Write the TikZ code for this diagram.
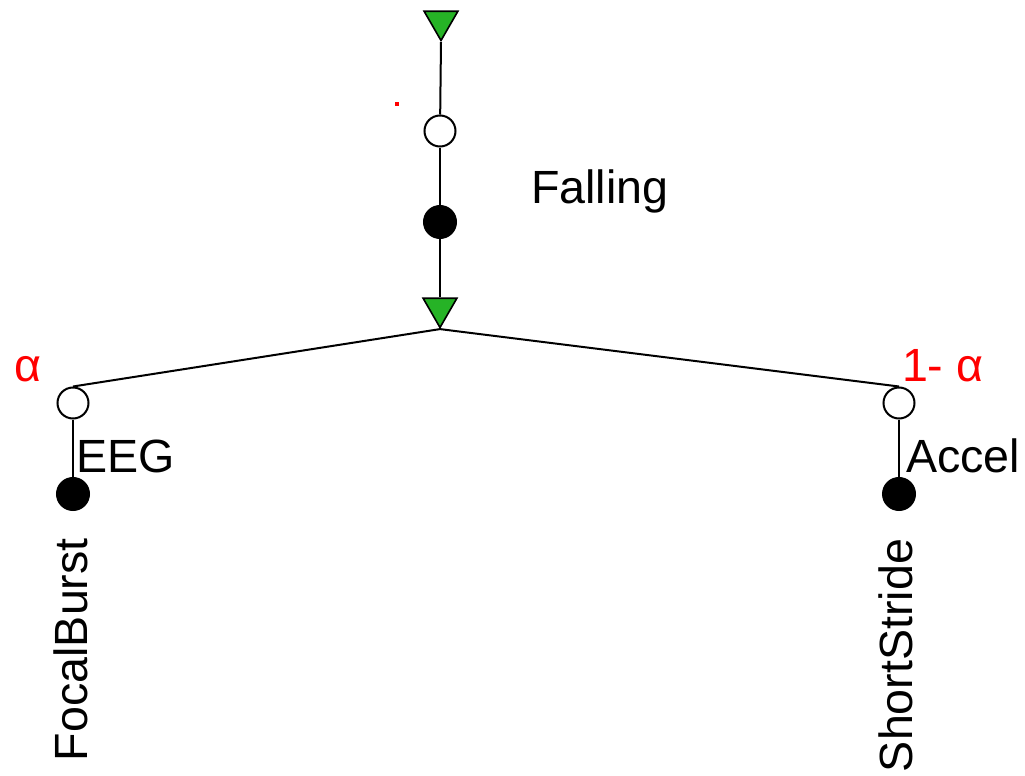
\documentclass[tikz,border=0pt]{standalone}
\usepackage{fontspec}
\setmainfont{Liberation Sans}
\usetikzlibrary{shapes.geometric}
\tikzset{
  hollow/.style={circle, draw, fill=white, line width=1pt, inner sep=0, minimum size=15.5pt},
  solid/.style={circle, draw, fill=black, line width=1pt, inner sep=0, minimum size=16pt},
  tri/.style={regular polygon, regular polygon sides=3, shape border rotate=180, draw, fill=green!65!black!85, line width=0.8pt, inner sep=0, minimum size=19.5pt},
  lbl/.style={inner sep=0, anchor=base west, font=\fontsize{23.3}{28}\selectfont},
  wt/.style={lbl, text=red}
}
\begin{document}
\begin{tikzpicture}[x=0.5pt, y=-0.5pt, line width=1pt]
      \useasboundingbox (0,0) rectangle (1025,776);
      \node[tri] (T1) at (441,21) {};
      \node[hollow] (W1) at (440,131) {};
      \node[solid] (B1) at (440,222) {};
      \node[tri] (T2) at (440,308) {};
      \node[hollow] (WL) at (73,403) {};
      \node[solid] (BL) at (73,494) {};
      \node[hollow] (WR) at (899,403) {};
      \node[solid] (BR) at (899,494) {};
      \node[fill=red, inner sep=0, minimum size=2pt] (dot) at (397,104) {};
      \draw (T1.corner 1) -- (W1);
      \draw (W1) -- (B1);
      \draw (B1) -- (T2);
      \draw (T2.corner 1) -- (WL.north);
      \draw (T2.corner 1) -- (WR.north);
      \draw (WL) -- (BL);
      \draw (WR) -- (BR);
      \node[lbl] (fall) at (530,203) {Falling};
      \node[lbl] (eeg) at (75,472) {EEG};
      \node[lbl] (acc) at (905,472) {Accel};
      \node[wt] (wa) at (14,381) {α};
      \node[wt] (wb) at (901,381) {1- α};
      \node[lbl, rotate=90] (fb) at (88,762) {FocalBurst};
      \node[lbl, rotate=90] (ss) at (912,773) {ShortStride};
\end{tikzpicture}
\end{document}
